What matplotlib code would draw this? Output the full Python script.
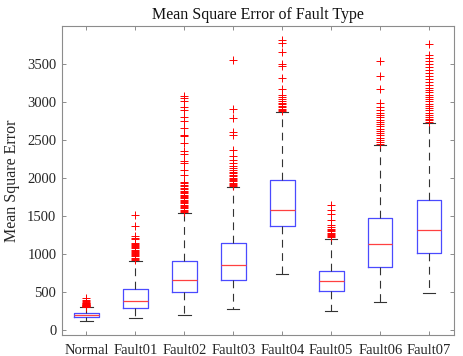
import matplotlib
matplotlib.use("Agg")
import matplotlib.pyplot as plt

categories = ["Normal", "Fault01", "Fault02", "Fault03", "Fault04", "Fault05", "Fault06", "Fault07"]
medians = [193, 381, 657, 858, 1576, 635, 1125, 1309]
q1 = [166, 280, 495, 648, 1366, 503, 827, 1007]
q3 = [223, 530, 911, 1138, 1970, 779, 1467, 1703]
whisker_low = [114, 158, 193, 267, 735, 250, 368, 482]
whisker_high = [293, 902, 1532, 1883, 2876, 1191, 2434, 2727]

fliers_normal = [300, 305, 310, 315, 320, 325, 330, 335, 340, 345, 350, 360, 375, 395, 420]
fliers_fault01 = [920, 935, 950, 965, 980, 995, 1010, 1025, 1040, 1055, 1070, 1085, 1100,
                  1115, 1130, 1145, 1190, 1210, 1230, 1360, 1515]
fliers_fault02 = [1550, 1565, 1580, 1600, 1615, 1630, 1650, 1665, 1680, 1700, 1715, 1730,
                  1750, 1765, 1780, 1800, 1815, 1830, 1850, 1870, 1890, 1910, 1930, 1950,
                  2045, 2110, 2200, 2220, 2310, 2350, 2460, 2550, 2570, 2660, 2745, 2810,
                  2900, 2940, 3010, 3050, 3080]
fliers_fault03 = [1895, 1910, 1925, 1940, 1955, 1970, 1985, 2000, 2020, 2040, 2060, 2080,
                  2100, 2130, 2155, 2200, 2240, 2285, 2370, 2570, 2610, 2790, 2905, 3560]
fliers_fault04 = [2885, 2900, 2915, 2930, 2950, 2970, 2990, 3010, 3040, 3070, 3095, 3170,
                  3320, 3470, 3500, 3660, 3780, 3825]
fliers_fault05 = [1220, 1235, 1250, 1265, 1280, 1295, 1310, 1330, 1350, 1375, 1450, 1520,
                  1575, 1640]
fliers_fault06 = [2450, 2480, 2505, 2530, 2560, 2590, 2620, 2650, 2680, 2710, 2740, 2770,
                  2800, 2830, 2860, 2900, 2940, 2985, 3170, 3345, 3545]
fliers_fault07 = [2740, 2760, 2780, 2800, 2830, 2860, 2890, 2920, 2950, 2980, 3010, 3040,
                  3070, 3100, 3130, 3160, 3190, 3220, 3260, 3300, 3340, 3380, 3420, 3460,
                  3500, 3540, 3580, 3620, 3765]
all_fliers = [fliers_normal, fliers_fault01, fliers_fault02, fliers_fault03,
              fliers_fault04, fliers_fault05, fliers_fault06, fliers_fault07]

y_ticks = [0, 500, 1000, 1500, 2000, 2500, 3000, 3500]

plt.rcParams['font.family'] = ['Liberation Serif', 'DejaVu Serif']

fig = plt.figure(figsize=(4.64, 3.56), dpi=100)
ax = fig.add_axes([0.1336, 0.0581, 0.8442, 0.8689])

stats = []
for i, name in enumerate(categories):
    stats.append(dict(label=name, med=medians[i], q1=q1[i], q3=q3[i],
                      whislo=whisker_low[i], whishi=whisker_high[i],
                      fliers=all_fliers[i]))

positions = list(range(1, len(categories) + 1))
ax.bxp(stats, positions=positions, widths=0.5, capwidths=0.25, showfliers=True,
       boxprops=dict(color='#4a4aff', linewidth=0.9),
       medianprops=dict(color='#ff4040', linewidth=0.9),
       whiskerprops=dict(color='#333333', linewidth=0.8, linestyle=(0, (7, 5))),
       capprops=dict(color='#333333', linewidth=0.8),
       flierprops=dict(marker='+', markeredgecolor='red', markersize=6,
                       markeredgewidth=0.7, linestyle='none'))

ax.set_xlim(0.5, 8.5)
ax.set_ylim(-75, 4004)
ax.set_yticks(y_ticks)
ax.set_xticks(positions)
ax.set_xticklabels(categories)

ax.tick_params(direction='in', length=3, width=0.7, colors='#8c8c8c',
               labelcolor='#262626', labelsize=10.5, top=True, right=True)
ax.tick_params(axis='x', pad=6)
ax.tick_params(axis='y', pad=4)
for s in ax.spines.values():
    s.set_color('#8c8c8c')
    s.set_linewidth(0.8)

ax.set_title("Mean Square Error of Fault Type", fontsize=11.5, color='#111111', pad=5)
ax.set_ylabel("Mean Square Error", fontsize=11.5, color='#262626', labelpad=5)

fig.savefig("out.png", dpi=100)
